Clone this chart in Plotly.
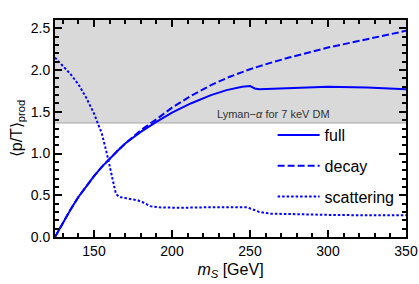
import plotly.graph_objects as go

# ---- data ----
full_x = [125, 130, 135, 140, 145, 150, 155, 160, 165, 170, 175, 180, 190, 200, 212, 225, 235, 245, 250, 253, 256, 270, 300, 325, 350]
full_y = [0.0, 0.17, 0.33, 0.48, 0.61, 0.73, 0.84, 0.94, 1.03, 1.12, 1.19, 1.26, 1.38, 1.49, 1.60, 1.70, 1.76, 1.80, 1.81, 1.78, 1.77, 1.78, 1.80, 1.79, 1.77]

decay_x = [125, 130, 135, 140, 145, 150, 155, 160, 165, 170, 175, 180, 190, 200, 212, 225, 237, 250, 262, 275, 300, 325, 350]
decay_y = [0.0, 0.17, 0.33, 0.48, 0.61, 0.73, 0.84, 0.94, 1.03, 1.12, 1.20, 1.28, 1.41, 1.55, 1.69, 1.82, 1.92, 2.01, 2.08, 2.15, 2.27, 2.37, 2.47]

scat_x = [125, 130, 135, 140, 145, 150, 155, 158, 160, 162, 164, 166, 172, 178, 182, 186, 192, 205, 220, 240, 248, 252, 256, 263, 280, 300, 325, 350]
scat_y = [2.15, 2.05, 1.95, 1.83, 1.67, 1.48, 1.24, 1.02, 0.86, 0.68, 0.52, 0.48, 0.46, 0.44, 0.41, 0.37, 0.355, 0.35, 0.355, 0.36, 0.355, 0.33, 0.30, 0.28, 0.27, 0.265, 0.26, 0.26]

lyman_bound = 1.366
x_range = [125, 350]
y_range = [0, 2.6]

FONT = "Liberation Sans, Arial, sans-serif"
BLUE = "#0000ff"

fig = go.Figure()
# Lyman-alpha excluded band (filled trace, below the curves)
fig.add_trace(go.Scatter(
    x=[x_range[0], x_range[1], x_range[1], x_range[0], x_range[0]],
    y=[lyman_bound, lyman_bound, y_range[1], y_range[1], lyman_bound],
    mode="lines", fill="toself", fillcolor="#d9d9d9", line=dict(width=0),
    showlegend=False, hoverinfo="skip"))
fig.add_trace(go.Scatter(
    x=x_range, y=[lyman_bound, lyman_bound], mode="lines",
    line=dict(color="#a6a6a6", width=1), showlegend=False, hoverinfo="skip"))

fig.add_trace(go.Scatter(x=full_x, y=full_y, mode="lines", name="full",
                         legendgroup="a", line=dict(color=BLUE, width=2)))
fig.add_trace(go.Scatter(x=decay_x, y=decay_y, mode="lines", name="decay",
                         legendgroup="b", line=dict(color=BLUE, width=2, dash="7px,3px")))
fig.add_trace(go.Scatter(x=scat_x, y=scat_y, mode="lines", name="scattering",
                         legendgroup="c", line=dict(color=BLUE, width=2, dash="2.5px,2px")))

fig.add_annotation(x=265, y=1.47, xref="x", yref="y", showarrow=False,
                   text="Lyman\u2212<i>\u03b1</i> for 7 keV DM",
                   font=dict(family=FONT, size=11, color="#333333"))

axis_common = dict(
    showline=True, linecolor="black", linewidth=2, mirror="allticks",
    ticks="inside", ticklen=7, tickwidth=1.5, tickcolor="black",
    showgrid=False, zeroline=False,
    tickfont=dict(family=FONT, size=14, color="black"),
)

fig.update_xaxes(range=x_range, dtick=50, tick0=0,
                 minor=dict(dtick=10, ticks="inside", ticklen=4, tickcolor="black",
                            tickwidth=1.5, showgrid=False),
                 title=dict(text="<i>m</i><sub><i>S</i></sub> [GeV]",
                            font=dict(family=FONT, size=16, color="black"), standoff=6),
                 **axis_common)
fig.update_yaxes(range=y_range, dtick=0.5, tick0=0, tickformat=".1f",
                 minor=dict(dtick=0.1, ticks="inside", ticklen=4, tickcolor="black",
                            tickwidth=1.5, showgrid=False),
                 title=dict(text="\u27e8p/T\u27e9<sub>prod</sub>",
                            font=dict(family=FONT, size=16, color="black"), standoff=4),
                 **axis_common)

fig.update_layout(
    template="none",
    width=419, height=284,
    margin=dict(l=55, r=13, t=20, b=47),
    paper_bgcolor="white", plot_bgcolor="white",
    font=dict(family=FONT, color="black"),
    legend=dict(x=0.62, y=0.548, xanchor="left", yanchor="top",
                bgcolor="rgba(0,0,0,0)", font=dict(family=FONT, size=16),
                traceorder="grouped", tracegroupgap=7, itemwidth=42),
    showlegend=True,
)

fig.write_html("out.html", config={"displayModeBar": False},
               post_script="document.body.style.margin='0';document.body.style.padding='0';")
